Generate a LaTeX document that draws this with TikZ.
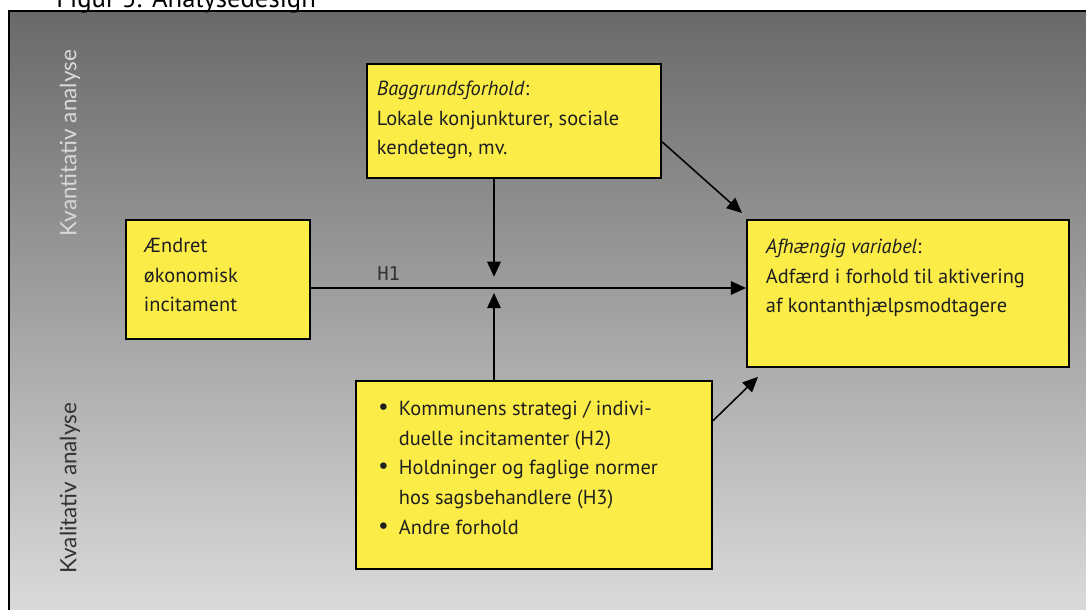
\documentclass[tikz,border=0pt]{standalone}
\usepackage{fontspec}
\setmainfont{PT Sans}
\newfontfamily\sidefont{Lato}
\newfontfamily\symfont{DejaVu Sans}
\setmonofont{DejaVu Sans Mono}
\usetikzlibrary{arrows.meta, positioning}

\definecolor{boxgul}{RGB}{251,236,72}
\definecolor{mork}{RGB}{105,105,105}
\definecolor{lys}{RGB}{219,219,219}

\newcommand{\boksfont}{\fontsize{14.5}{21}\selectfont\color{black!88}}
\newcommand{\boxtekst}[4]{\parbox[c][#2][t]{#1}{\rule{0pt}{#3}#4}}
\newcommand{\punkt}{\makebox[0.55cm][l]{{\symfont\fontsize{16}{16}\selectfont\textbullet}}}

\begin{document}
\begin{tikzpicture}[x=0.025cm, y=-0.025cm]
        % Define styles
        \tikzstyle{gulboks} = [rectangle, draw=black, fill=boxgul, line width=1.3pt, anchor=north west, inner ysep=0pt, font=\boksfont]
        \tikzstyle{pil} = [draw, line width=1.1pt, -{Triangle[length=3.8mm, width=3.4mm]}]
        \tikzstyle{sidetekst} = [rotate=90, inner sep=0pt, font=\sidefont\fontsize{16}{18}\selectfont]

        \useasboundingbox (0,0) rectangle (1086,610);

        % Background and frame
        \shade[top color=mork, bottom color=lys] (9,11) rectangle (1090,615);
        \draw[line width=1.6pt] (1090,11) -- (9,11) -- (9,615);
        \node[anchor=base west, inner sep=0pt, font=\fontsize{19}{22}\selectfont] (titel) at (56,8) {Figur 5. Analysedesign};

        % Side labels
        \node[sidetekst, text=black!15] (kvant) at (70,143) {Kvantitativ analyse};
        \node[sidetekst, text=black!80] (kvali) at (70,488) {Kvalitativ analyse};

        % Define nodes
        \node[gulboks, inner xsep=0.25cm] (bag) at (366,63) {\boxtekst{6.85cm}{2.85cm}{0.8cm}{\textit{Baggrundsforhold}:\\Lokale konjunkturer, sociale\\kendetegn, mv.}};
        \node[gulboks, inner xsep=0.45cm] (links) at (125,219) {\boxtekst{3.7cm}{2.975cm}{0.825cm}{Ændret\\økonomisk\\incitament}};
        \node[gulboks, inner xsep=0.475cm] (afh) at (746,219) {\boxtekst{7.1cm}{3.675cm}{0.85cm}{\textit{Afhængig variabel}:\\Adfærd i forhold til aktivering\\af kontanthjælpsmodtagere}};
        \node[gulboks, inner xsep=0.525cm] (forhold) at (355,380) {\boxtekst{7.85cm}{4.7cm}{0.875cm}{\punkt Kommunens strategi / indivi-\\\hspace*{0.55cm}duelle incitamenter (H2)\\\punkt Holdninger og faglige normer\\\hspace*{0.55cm}hos sagsbehandlere (H3)\\\punkt Andre forhold}};
        \coordinate (kryds) at (494,288);

        % Connect nodes with paths
        \path[pil] (links.east |- kryds) -- (afh.west |- kryds);
        \node[anchor=base west, inner sep=0pt, text=black!80, font=\ttfamily\fontsize{13.5}{16}\selectfont] (hen) at (377,281) {H1};
        \path[pil] (bag.south -| kryds) -- ([yshift=0.28cm]kryds);
        \path[pil] (forhold.north -| kryds) -- ([yshift=-0.125cm]kryds);
        \path[pil] ([yshift=0.93cm]bag.south east) -- ([shift={(-4,-6)}]afh.north west);
        \path[pil] ([yshift=-1.02cm]forhold.north east) -- ([shift={(12,9)}]afh.south west);

    \end{tikzpicture}
\end{document}
